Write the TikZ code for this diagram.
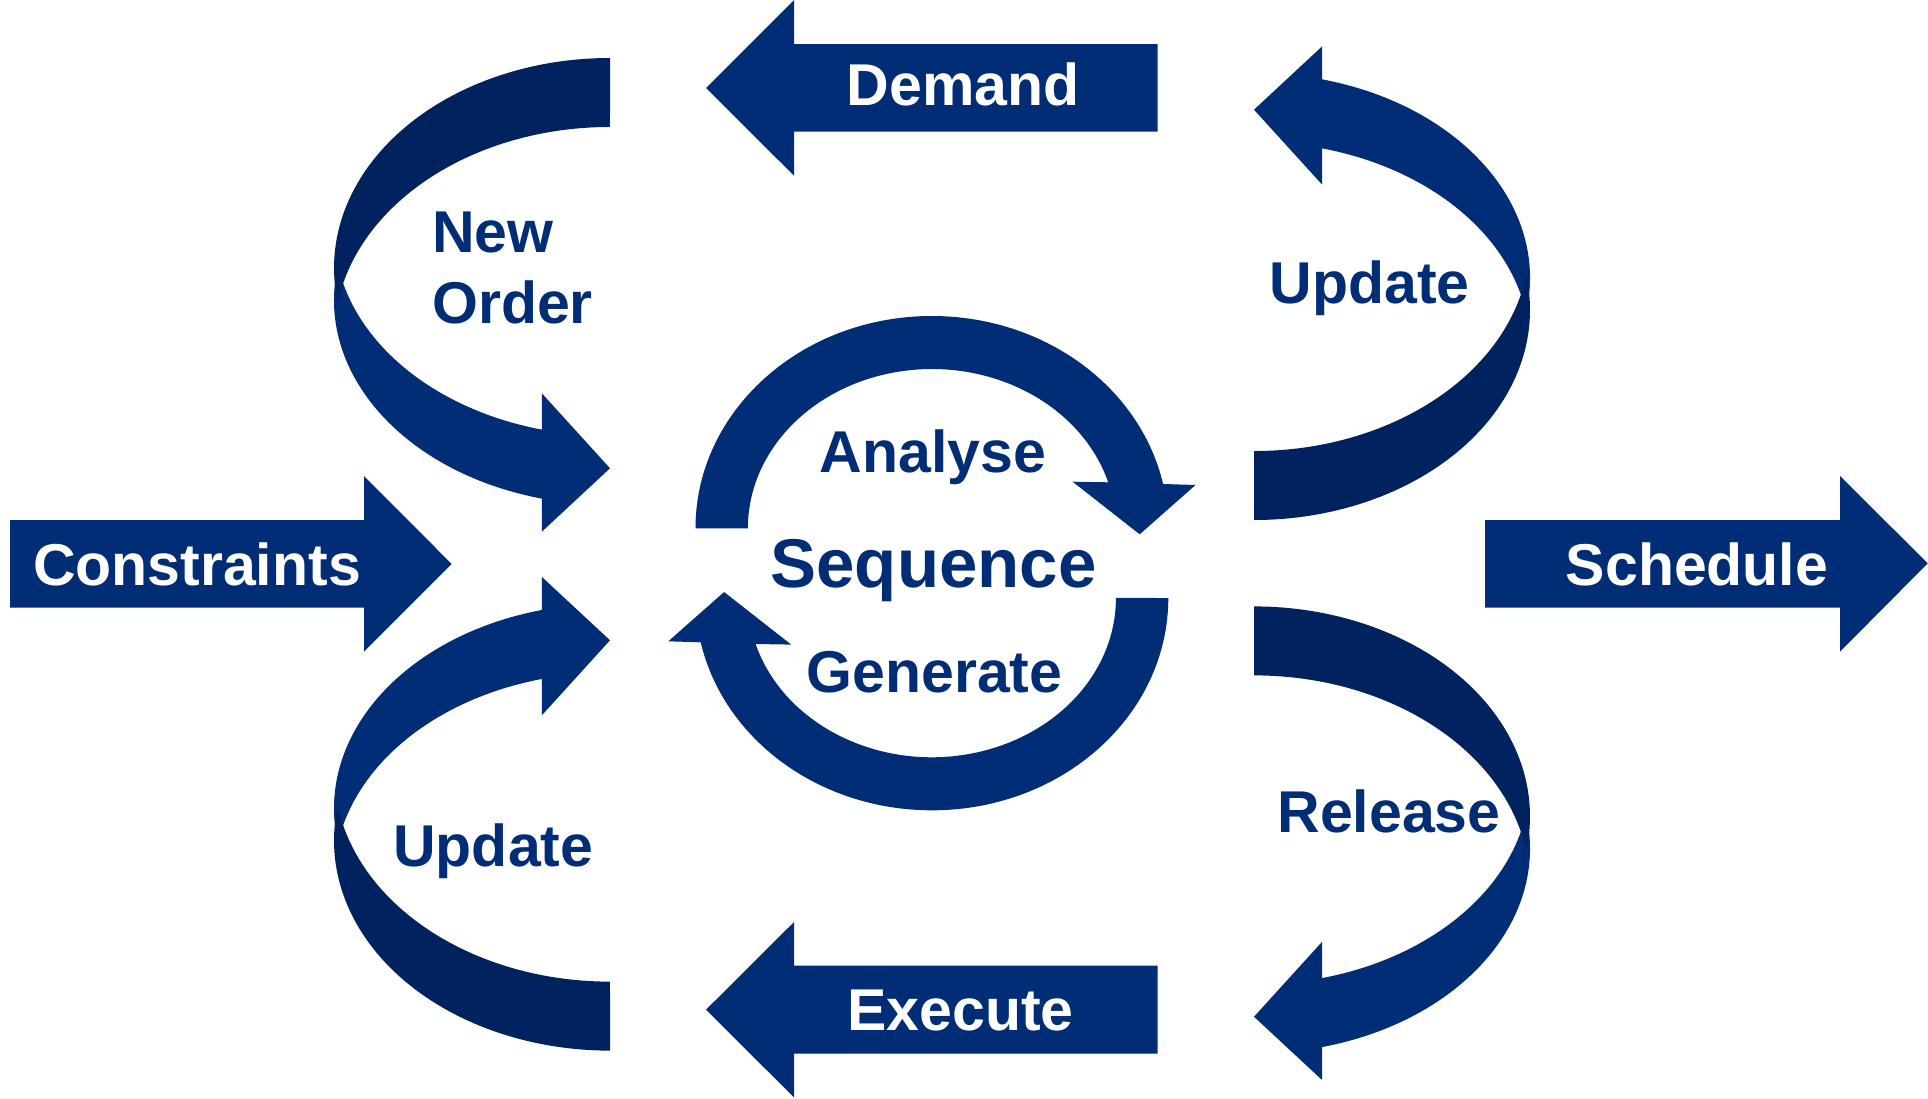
\documentclass[tikz,border=0pt]{standalone}
\usepackage{fontspec}
\setmainfont{Liberation Sans}
\definecolor{mainblue}{RGB}{0,45,118}
\definecolor{darkblue}{RGB}{0,34,94}
\tikzset{
  lbl/.style={font=\fontsize{59}{70}\selectfont\bfseries, inner sep=0pt, anchor=base},
  whitelbl/.style={lbl, text=white},
  bluelbl/.style={lbl, text=mainblue}
}
\newcommand{\mysidearrow}{%
  \fill[mainblue] (337.95,265.46)
    arc[start angle=189.7, end angle=104.3, x radius=276, y radius=205]
    -- (541.83,531.7) -- (610,468.3) -- (541.83,393.3) -- (541.83,429.65)
    arc[start angle=104.3, end angle=170.3, x radius=276, y radius=205] -- cycle;
  \fill[darkblue] (610,58)
    arc[start angle=270, end angle=170.55, x radius=276, y radius=210]
    arc[start angle=189.46, end angle=270, x radius=276, y radius=210] -- cycle;
}
\newcommand{\myringhalf}{%
  \fill[mainblue] (695.5,528.3)
    arc[start angle=180, end angle=347.95, x radius=236.4, y radius=212.3]
    -- (1195.5,485) -- (1139.7,534.3) -- (1072.6,481.7) -- (1108.2,482.3)
    arc[start angle=343.2, end angle=180, x radius=184.1, y radius=159.3] -- cycle;
}
\begin{document}
\begin{tikzpicture}[x=1pt,y=1pt,yscale=-1]
\useasboundingbox[fill=white] (0,0) rectangle (1928,1098);

% curved side arrows
\begin{scope}\mysidearrow\end{scope}
\begin{scope}[shift={(0,1108.6)},yscale=-1]\mysidearrow\end{scope}
\begin{scope}[shift={(1864,578)},rotate=180]\mysidearrow\end{scope}
\begin{scope}[shift={(1864,548.4)},xscale=-1]\mysidearrow\end{scope}

% central circular arrows
\begin{scope}\myringhalf\end{scope}
\begin{scope}[shift={(1863.8,1126.3)},rotate=180]\myringhalf\end{scope}

% straight arrows
\fill[mainblue] (1157.7,44) -- (794,44) -- (794,0) -- (706,88) -- (794,175.7)
  -- (794,131.7) -- (1157.7,131.7) -- cycle;
\fill[mainblue] (1157.7,965.7) -- (794,965.7) -- (794,922) -- (706,1009.7)
  -- (794,1097.4) -- (794,1053.7) -- (1157.7,1053.7) -- cycle;
\fill[mainblue] (10,520) -- (364,520) -- (364,476) -- (451.7,564) -- (364,651.7)
  -- (364,607.7) -- (10,607.7) -- cycle;
\fill[mainblue] (1485,520) -- (1840,520) -- (1840,476) -- (1927.7,563.3)
  -- (1840,651.7) -- (1840,607.7) -- (1485,607.7) -- cycle;

% labels on straight arrows
\node[whitelbl] (demand) at (963.3,105.3) {Demand};
\node[whitelbl] (execute) at (960.5,1030.3) {Execute};
\node[whitelbl] (constraints) at (197,585.5) {Constraints};
\node[whitelbl] (schedule) at (1697,585.5) {Schedule};

% labels in curved arrows
\node[bluelbl, anchor=base west] (new) at (432,252.3) {New};
\node[bluelbl, anchor=base west] (order) at (432,323.3) {Order};
\node[bluelbl] (updtr) at (1369.7,303.3) {Update};
\node[bluelbl] (release) at (1389,832.3) {Release};
\node[bluelbl] (updbl) at (493.3,866.7) {Update};

% centre labels
\node[bluelbl] (analyse) at (933,472.3) {Analyse};
\node[bluelbl, font=\fontsize{69}{80}\selectfont\bfseries] (sequence) at (933.5,587) {Sequence};
\node[bluelbl] (generate) at (934.5,692.7) {Generate};
\end{tikzpicture}
\end{document}
